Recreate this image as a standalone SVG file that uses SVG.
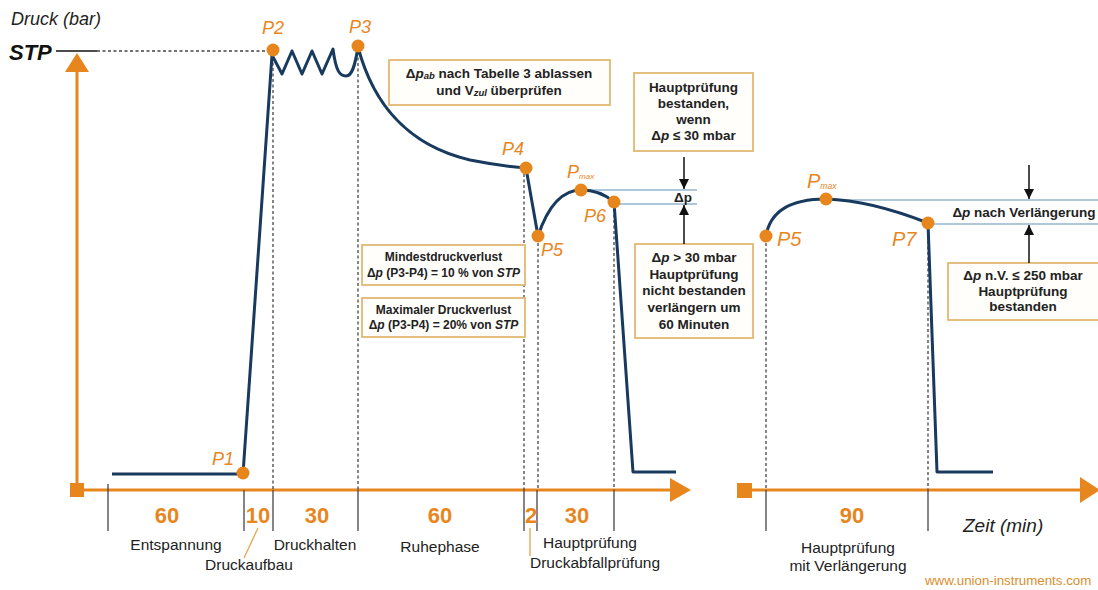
<svg xmlns="http://www.w3.org/2000/svg" width="1098" height="590" viewBox="0 0 1098 590">
<defs>
<marker id="ah" viewBox="0 0 10 10" refX="10" refY="5" markerWidth="10" markerHeight="10" markerUnits="userSpaceOnUse" orient="auto"><path d="M0,0 L10,5 L0,10 z" fill="#111"/></marker>
</defs>
<style>
.ax{stroke:#E8861E;stroke-width:3;fill:none}
.axh{fill:#E8861E}
.curve{stroke:#173A5E;stroke-width:3;fill:none;stroke-linejoin:round}
.dash{stroke:#444;stroke-width:1.3;stroke-dasharray:3 2.5;fill:none}
.tick{stroke:#444;stroke-width:1.3}
.lb{stroke:#5F8FB8;stroke-width:1.2}
.box{fill:#FFFEFB;stroke:#E2B873;stroke-width:1.8}
.bt{font-family:"Liberation Sans",Arial,sans-serif;font-weight:bold;font-size:13.5px;fill:#222;text-anchor:middle}
.st{font-size:12px}
.num{font-family:"Liberation Sans",Arial,sans-serif;font-weight:bold;font-size:22px;fill:#E8861E;text-anchor:middle}
.lab{font-family:"Liberation Sans",Arial,sans-serif;font-size:15.5px;fill:#222;text-anchor:middle}
.pl{font-family:"Liberation Sans",Arial,sans-serif;font-style:italic;font-size:18px;fill:#E8861E}
.pl2{font-size:20px}
.dot{fill:#E8861E}
.arr{stroke:#111;stroke-width:1.5;marker-end:url(#ah)}
.it{font-style:italic}
</style>
<rect width="1098" height="590" fill="#FFFFFF"/>

<g id="axes">
  <text x="11" y="25" font-family="Liberation Sans, Arial, sans-serif" font-style="italic" font-size="18" fill="#222">Druck (bar)</text>
  <text x="9" y="60" font-family="Liberation Sans, Arial, sans-serif" font-style="italic" font-weight="bold" font-size="22" fill="#111">STP</text>
  <line x1="56" y1="51" x2="97" y2="51" stroke="#111" stroke-width="1.5"/>
  <line x1="97" y1="51" x2="271" y2="51" class="dash"/>
  <line x1="77" y1="490" x2="77" y2="70" class="ax"/>
  <polygon points="65,72 89,72 77,53" class="axh"/>
  <rect x="70" y="483" width="14" height="14" class="axh"/>
  <line x1="84" y1="490" x2="672" y2="490" class="ax"/>
  <polygon points="670,478 691,490 670,502" class="axh"/>
  <rect x="737" y="483" width="15" height="15" class="axh"/>
  <line x1="752" y1="490" x2="1082" y2="490" class="ax"/>
  <polygon points="1080,477 1100,490 1080,503" class="axh"/>
  <text x="963" y="532" font-family="Liberation Sans, Arial, sans-serif" font-style="italic" font-size="19" fill="#222">Zeit (min)</text>
</g>

<g id="guides">
  <line x1="273" y1="57" x2="273" y2="490" class="dash"/>
  <line x1="358" y1="52" x2="358" y2="490" class="dash"/>
  <line x1="524" y1="174" x2="524" y2="490" class="dash"/>
  <line x1="538" y1="243" x2="538" y2="490" class="dash"/>
  <line x1="614" y1="209" x2="614" y2="490" class="dash"/>
  <line x1="766" y1="243" x2="766" y2="490" class="dash"/>
  <line x1="928" y1="230" x2="928" y2="490" class="dash"/>
  <line x1="108" y1="484" x2="108" y2="531" class="tick"/>
  <line x1="244" y1="490" x2="244" y2="531" class="tick"/>
  <line x1="273" y1="490" x2="273" y2="531" class="tick"/>
  <line x1="358" y1="490" x2="358" y2="531" class="tick"/>
  <line x1="524" y1="490" x2="524" y2="531" class="tick"/>
  <line x1="537" y1="490" x2="537" y2="531" class="tick"/>
  <line x1="614" y1="490" x2="614" y2="531" class="tick"/>
  <line x1="766" y1="490" x2="766" y2="531" class="tick"/>
  <line x1="928" y1="490" x2="928" y2="531" class="tick"/>
  <line x1="581" y1="190" x2="697" y2="190" class="lb"/>
  <line x1="614" y1="204" x2="697" y2="204" class="lb"/>
  <line x1="826" y1="200" x2="1098" y2="200" class="lb"/>
  <line x1="928" y1="224" x2="1098" y2="224" class="lb"/>
</g>

<g id="curves">
  <path class="curve" d="M112,474 L243,474 L272,55 L282,74 L292,51 L302,74 L312,51 L322,74 L333,49 C336,72 340,76 346,76 C352,76 355,66 358,47 C372,100 405,145 470,160 C500,166 515,167 526,168 L538,236 C548,206 563,190 581,190 C596,190 606,195 614,202 L633,472 L676,472"/>
  <path class="curve" d="M766,236 C770,212 790,199 826,199 C862,200 900,212 928,223 L937,472 L993,472"/>
</g>

<g id="points">
  <circle cx="243" cy="473" r="6.5" class="dot"/>
  <text x="212" y="465" class="pl">P1</text>
  <circle cx="273" cy="50" r="6.5" class="dot"/>
  <text x="262" y="34" class="pl">P2</text>
  <circle cx="358" cy="46" r="6.5" class="dot"/>
  <text x="349" y="33" class="pl">P3</text>
  <circle cx="526" cy="168" r="6.5" class="dot"/>
  <text x="502" y="155" class="pl">P4</text>
  <circle cx="538" cy="236" r="6.5" class="dot"/>
  <text x="541" y="256" class="pl">P5</text>
  <circle cx="581" cy="190" r="6.5" class="dot"/>
  <text x="567" y="178" class="pl">P<tspan font-size="8" dy="1">max</tspan></text>
  <circle cx="614" cy="202" r="6.5" class="dot"/>
  <text x="584" y="222" class="pl">P6</text>
  <circle cx="766" cy="236" r="6.5" class="dot"/>
  <text x="777" y="246" class="pl pl2">P5</text>
  <circle cx="826" cy="199" r="6.5" class="dot"/>
  <text x="807" y="188" class="pl pl2">P<tspan font-size="8.5" dy="1">max</tspan></text>
  <circle cx="928" cy="223" r="6.5" class="dot"/>
  <text x="892" y="246" class="pl pl2">P7</text>
</g>

<g id="box-ablassen">
  <rect x="389" y="60" width="221" height="45" class="box"/>
  <text x="499" y="78" class="bt">Δ<tspan class="it">p</tspan><tspan class="it" font-size="9.5" dy="1">ab</tspan><tspan dy="-1"> nach Tabelle 3 ablassen</tspan></text>
  <text x="499" y="95" class="bt">und V<tspan class="it" font-size="9.5" dy="1">zul</tspan><tspan dy="-1"> überprüfen</tspan></text>
</g>

<g id="box-bestanden">
  <rect x="634" y="73" width="119" height="78" class="box"/>
  <text x="693.5" y="92" class="bt">Hauptprüfung</text>
  <text x="693.5" y="108" class="bt">bestanden,</text>
  <text x="693.5" y="124" class="bt">wenn</text>
  <text x="693.5" y="140" class="bt">Δ<tspan class="it">p</tspan> ≤ 30 mbar</text>
</g>

<g id="box-nicht-bestanden">
  <rect x="635" y="244" width="118" height="94" class="box"/>
  <text x="694" y="262" class="bt">Δ<tspan class="it">p</tspan> &gt; 30 mbar</text>
  <text x="694" y="279" class="bt">Hauptprüfung</text>
  <text x="694" y="295" class="bt">nicht bestanden</text>
  <text x="694" y="312" class="bt">verlängern um</text>
  <text x="694" y="329" class="bt">60 Minuten</text>
</g>

<g id="box-mindest">
  <rect x="362" y="245" width="163" height="40" class="box"/>
  <text x="443.5" y="261" class="bt st">Mindestdruckverlust</text>
  <text x="443.5" y="277" class="bt st">Δ<tspan class="it">p</tspan> (P3-P4) = 10 % von <tspan class="it">STP</tspan></text>
</g>

<g id="box-maximal">
  <rect x="362" y="298" width="163" height="39" class="box"/>
  <text x="443.5" y="314" class="bt st">Maximaler Druckverlust</text>
  <text x="443.5" y="329" class="bt st">Δ<tspan class="it">p</tspan> (P3-P4) = 20% von <tspan class="it">STP</tspan></text>
</g>

<g id="box-nv">
  <rect x="948" y="263" width="160" height="57" class="box"/>
  <text x="1023" y="280" class="bt">Δ<tspan class="it">p</tspan> n.V. ≤ 250 mbar</text>
  <text x="1023" y="296" class="bt">Hauptprüfung</text>
  <text x="1023" y="311" class="bt">bestanden</text>
</g>

<g id="delta-labels">
  <text x="683" y="202" class="bt">Δp</text>
  <text x="1024" y="217" class="bt">Δ<tspan class="it">p</tspan> nach Verlängerung</text>
</g>

<g id="connectors">
  <line x1="684" y1="157" x2="684" y2="189" class="arr"/>
  <line x1="684" y1="244" x2="684" y2="205" class="arr"/>
  <line x1="1029" y1="165" x2="1029" y2="199" class="arr"/>
  <line x1="1029" y1="263" x2="1029" y2="225" class="arr"/>
  <line x1="258" y1="528" x2="244" y2="558" stroke="#E8A24A" stroke-width="1.3"/>
  <line x1="530" y1="528" x2="530" y2="556" stroke="#E8A24A" stroke-width="1.3"/>
</g>

<g id="timeline-labels">
  <text x="167" y="523" class="num">60</text>
  <text x="258" y="523" class="num">10</text>
  <text x="317" y="523" class="num">30</text>
  <text x="440" y="523" class="num">60</text>
  <text x="531" y="523" class="num">2</text>
  <text x="577" y="523" class="num">30</text>
  <text x="852" y="523" class="num">90</text>
  <text x="176" y="550" class="lab">Entspannung</text>
  <text x="249" y="570" class="lab">Druckaufbau</text>
  <text x="315" y="550" class="lab">Druckhalten</text>
  <text x="440" y="552" class="lab">Ruhephase</text>
  <text x="590" y="548" class="lab">Hauptprüfung</text>
  <text x="595" y="568" class="lab">Druckabfallprüfung</text>
  <text x="848" y="553" class="lab">Hauptprüfung</text>
  <text x="848" y="571" class="lab">mit  Verlängerung</text>
  <text x="925" y="585" font-family="Liberation Sans, Arial, sans-serif" font-size="13.3" fill="#D98E2E">www.union-instruments.com</text>
</g>
</svg>
